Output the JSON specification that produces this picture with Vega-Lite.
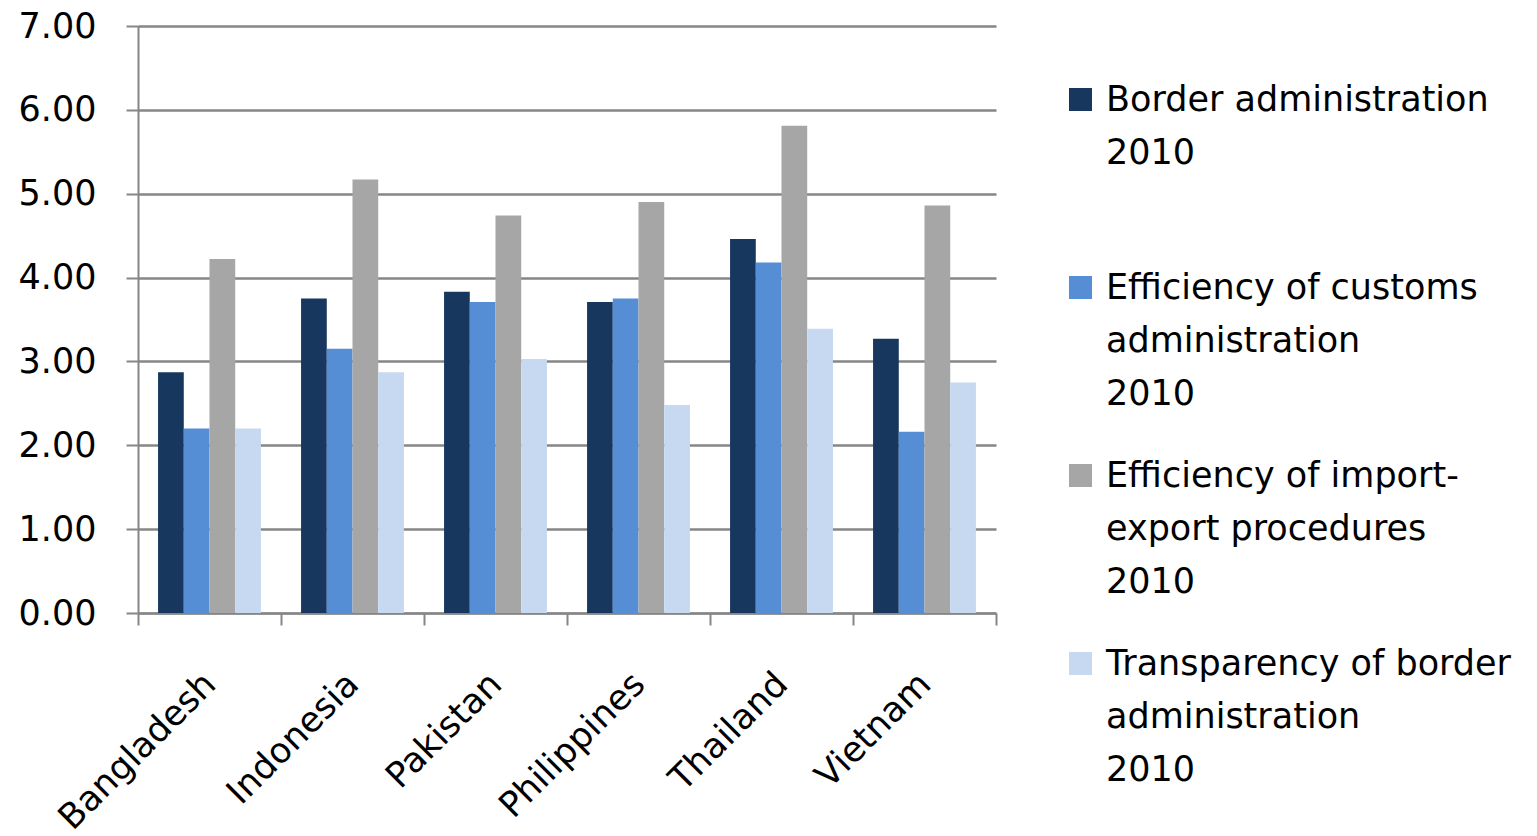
{
  "$schema": "https://vega.github.io/schema/vega-lite/v6.json",
  "width": 858,
  "height": 587,
  "autosize": {"type": "none"},
  "padding": {"left": 138, "top": 26, "right": 541, "bottom": 223},
  "background": "white",
  "config": {
    "font": "DejaVu Sans",
    "view": {"stroke": null}
  },
  "data": {
    "values": [
      {"country": "Bangladesh", "series": "Border administration 2010", "value": 2.87},
      {"country": "Bangladesh", "series": "Efficiency of customs administration 2010", "value": 2.20},
      {"country": "Bangladesh", "series": "Efficiency of import-export procedures 2010", "value": 4.22},
      {"country": "Bangladesh", "series": "Transparency of border administration 2010", "value": 2.20},
      {"country": "Indonesia", "series": "Border administration 2010", "value": 3.75},
      {"country": "Indonesia", "series": "Efficiency of customs administration 2010", "value": 3.15},
      {"country": "Indonesia", "series": "Efficiency of import-export procedures 2010", "value": 5.17},
      {"country": "Indonesia", "series": "Transparency of border administration 2010", "value": 2.87},
      {"country": "Pakistan", "series": "Border administration 2010", "value": 3.83},
      {"country": "Pakistan", "series": "Efficiency of customs administration 2010", "value": 3.71},
      {"country": "Pakistan", "series": "Efficiency of import-export procedures 2010", "value": 4.74},
      {"country": "Pakistan", "series": "Transparency of border administration 2010", "value": 3.03},
      {"country": "Philippines", "series": "Border administration 2010", "value": 3.71},
      {"country": "Philippines", "series": "Efficiency of customs administration 2010", "value": 3.75},
      {"country": "Philippines", "series": "Efficiency of import-export procedures 2010", "value": 4.90},
      {"country": "Philippines", "series": "Transparency of border administration 2010", "value": 2.48},
      {"country": "Thailand", "series": "Border administration 2010", "value": 4.46},
      {"country": "Thailand", "series": "Efficiency of customs administration 2010", "value": 4.18},
      {"country": "Thailand", "series": "Efficiency of import-export procedures 2010", "value": 5.81},
      {"country": "Thailand", "series": "Transparency of border administration 2010", "value": 3.39},
      {"country": "Vietnam", "series": "Border administration 2010", "value": 3.27},
      {"country": "Vietnam", "series": "Efficiency of customs administration 2010", "value": 2.16},
      {"country": "Vietnam", "series": "Efficiency of import-export procedures 2010", "value": 4.86},
      {"country": "Vietnam", "series": "Transparency of border administration 2010", "value": 2.75}
    ]
  },
  "mark": {"type": "bar"},
  "encoding": {
    "x": {
      "field": "country",
      "type": "nominal",
      "sort": null,
      "scale": {"paddingInner": 0, "paddingOuter": 0},
      "axis": {
        "title": null,
        "labelAngle": -45,
        "labelAlign": "right",
        "labelBaseline": "middle",
        "labelFontSize": 35,
        "labelColor": "black",
        "labelPadding": 53,
        "labelLimit": 500,
        "domainColor": "#868686",
        "domainWidth": 2,
        "tickColor": "#868686",
        "tickWidth": 2,
        "tickSize": 12,
        "tickBand": "extent",
        "labelFlush": false
      }
    },
    "xOffset": {
      "field": "series",
      "type": "nominal",
      "sort": null,
      "scale": {"paddingInner": 0, "paddingOuter": 0.78}
    },
    "y": {
      "field": "value",
      "type": "quantitative",
      "scale": {"domain": [0, 7], "nice": false},
      "axis": {
        "title": null,
        "values": [0, 1, 2, 3, 4, 5, 6, 7],
        "format": ".2f",
        "labelFontSize": 35,
        "labelColor": "black",
        "labelPadding": 30,
        "domainColor": "#868686",
        "domainWidth": 2,
        "tickColor": "#868686",
        "tickWidth": 2,
        "tickSize": 12,
        "gridColor": "#868686",
        "gridWidth": 2.5
      }
    },
    "color": {
      "field": "series",
      "type": "nominal",
      "sort": null,
      "scale": {
        "domain": ["Border administration 2010", "Efficiency of customs administration 2010", "Efficiency of import-export procedures 2010", "Transparency of border administration 2010"],
        "range": ["#17375E", "#558ED5", "#A6A6A6", "#C6D9F1"]
      },
      "legend": {
        "title": null,
        "orient": "none",
        "legendX": 925,
        "legendY": 56,
        "symbolType": "square",
        "symbolSize": 529,
        "symbolStrokeWidth": 0,
        "labelFontSize": 35,
        "labelColor": "black",
        "labelOffset": 8,
        "labelLimit": 600,
        "rowPadding": 46,
        "encode": {
          "labels": {"update": {"lineHeight": {"value": 53}}}
        },
        "labelExpr": "datum.label == 'Border administration 2010' ? ['Border administration', '2010', ''] : datum.label == 'Efficiency of customs administration 2010' ? ['Efficiency of customs', 'administration', '2010'] : datum.label == 'Efficiency of import-export procedures 2010' ? ['Efficiency of import-', 'export procedures', '2010'] : ['Transparency of border', 'administration', '2010']"
      }
    }
  }
}
